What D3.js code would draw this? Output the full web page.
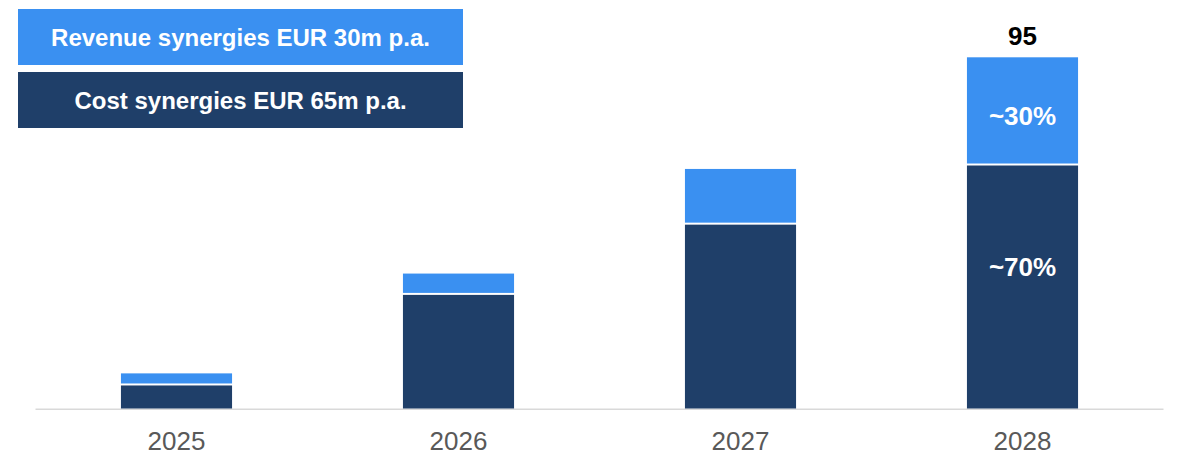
<!DOCTYPE html>
<html>
<head>
<meta charset="utf-8">
<script src="https://cdn.jsdelivr.net/npm/d3@7"></script>
<style>
  body { margin: 0; background: #fff; }
  svg { display: block; font-family: "Liberation Sans", Arial, sans-serif; }
</style>
</head>
<body>
<script>
var width = 1178,
    height = 455;

// données
const years = ["2025", "2026", "2027", "2028"];
const costValues = [6.5, 31, 50, 66];
const revenueValues = [3, 5.5, 14.8, 29];
const totalLabels = ["", "", "", "95"];
const costShareLabels = ["", "", "", "~70%"];
const revenueShareLabels = ["", "", "", "~30%"];
const legendLabels = ["Revenue synergies EUR 30m p.a.", "Cost synergies EUR 65m p.a."];

const revenueColor = "#3a90f1",
      costColor = "#1f3f69";

var svg = d3.select("body").append("svg")
    .attr("width", width)
    .attr("height", height);

var x = d3.scaleBand()
    .domain(years)
    .range([35.5, 1163.5])
    .paddingInner(0.606)
    .paddingOuter(0.303);

var y = d3.scaleLinear()
    .domain([0, 95])
    .range([408.5, 57.3]);

var data = years.map((yr, i) => ({
    year: yr,
    cost: costValues[i],
    revenue: revenueValues[i],
    total: totalLabels[i],
    costShare: costShareLabels[i],
    revShare: revenueShareLabels[i]
}));

// axe horizontal
svg.append("line")
    .attr("x1", x.range()[0]).attr("x2", x.range()[1])
    .attr("y1", y(0) + 0.8).attr("y2", y(0) + 0.8)
    .style("stroke", "#d9d9d9")
    .style("stroke-width", 1.5);

var bars = svg.append("g").selectAll("g").data(data).join("g");

// coûts
bars.append("rect")
    .attr("x", d => x(d.year))
    .attr("width", x.bandwidth())
    .attr("y", d => y(d.cost) + 1)
    .attr("height", d => y(0) - y(d.cost) - 1)
    .style("fill", costColor);

// revenus
bars.append("rect")
    .attr("x", d => x(d.year))
    .attr("width", x.bandwidth())
    .attr("y", d => y(d.cost + d.revenue))
    .attr("height", d => y(d.cost) - y(d.cost + d.revenue) - 1)
    .style("fill", revenueColor);

// total au-dessus
bars.append("text")
    .attr("x", d => x(d.year) + x.bandwidth() / 2)
    .attr("y", d => y(d.cost + d.revenue) - 21)
    .attr("text-anchor", "middle")
    .attr("dominant-baseline", "central")
    .style("font-size", "26px")
    .style("font-weight", "bold")
    .style("fill", "#000")
    .text(d => d.total);

// pourcentages
bars.append("text")
    .attr("x", d => x(d.year) + x.bandwidth() / 2)
    .attr("y", d => (y(d.cost) + y(d.cost + d.revenue)) / 2 + 5)
    .attr("text-anchor", "middle")
    .attr("dominant-baseline", "central")
    .style("font-size", "26px")
    .style("font-weight", "bold")
    .style("fill", "#fff")
    .text(d => d.revShare);

bars.append("text")
    .attr("x", d => x(d.year) + x.bandwidth() / 2)
    .attr("y", d => y(d.cost) + 102)
    .attr("text-anchor", "middle")
    .attr("dominant-baseline", "central")
    .style("font-size", "26px")
    .style("font-weight", "bold")
    .style("fill", "#fff")
    .text(d => d.costShare);

// années
svg.append("g").selectAll("text").data(years).join("text")
    .attr("x", d => x(d) + x.bandwidth() / 2)
    .attr("y", 441)
    .attr("text-anchor", "middle")
    .attr("dominant-baseline", "central")
    .style("font-size", "26px")
    .style("fill", "#595959")
    .text(d => d);

// légende
var legend = svg.append("g").selectAll("g").data(legendLabels).join("g")
    .attr("transform", (d, i) => `translate(18, ${9 + i * 63})`);

legend.append("rect")
    .attr("width", 445)
    .attr("height", 56)
    .style("fill", (d, i) => i === 0 ? revenueColor : costColor);

legend.append("text")
    .attr("x", 222.5)
    .attr("y", 28.5)
    .attr("text-anchor", "middle")
    .attr("dominant-baseline", "central")
    .style("font-size", "24px")
    .style("font-weight", "bold")
    .style("fill", "#fff")
    .text(d => d);
</script>
</body>
</html>
